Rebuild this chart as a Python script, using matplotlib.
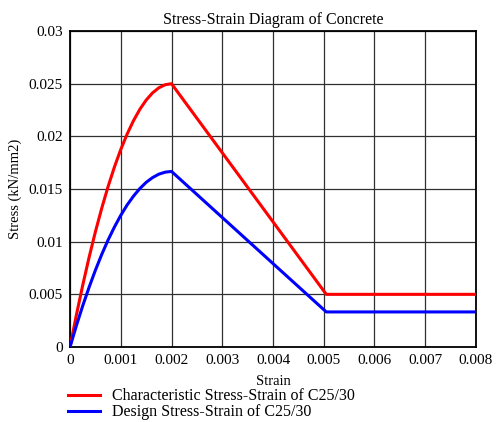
import matplotlib
matplotlib.use('Agg')
import matplotlib.pyplot as plt

plt.rcParams['font.family'] = ['Liberation Serif', 'DejaVu Serif']

# strain (-) and stress (kN/mm2)
strain = [0, 0.000125, 0.00025, 0.000375, 0.0005, 0.000625, 0.00075, 0.000875, 0.001,
          0.001125, 0.00125, 0.001375, 0.0015, 0.001625, 0.00175, 0.001875, 0.002,
          0.00505, 0.008]
stress_char = [0, 0.00303, 0.00586, 0.0085, 0.01094, 0.01318, 0.01523, 0.01709, 0.01875,
               0.02021, 0.02148, 0.02256, 0.02344, 0.02412, 0.02461, 0.0249, 0.025,
               0.005, 0.005]
stress_design = [0, 0.00202, 0.00391, 0.00566, 0.00729, 0.00879, 0.01016, 0.01139, 0.0125,
                 0.01348, 0.01432, 0.01504, 0.01563, 0.01608, 0.01641, 0.0166, 0.01667,
                 0.00333, 0.00333]

label_char = 'Characteristic Stress-Strain of C25/30'
label_design = 'Design Stress-Strain of C25/30'

x_ticks = [0, 0.001, 0.002, 0.003, 0.004, 0.005, 0.006, 0.007, 0.008]
x_labels = ['0', '0.001', '0.002', '0.003', '0.004', '0.005', '0.006', '0.007', '0.008']
y_ticks = [0, 0.005, 0.01, 0.015, 0.02, 0.025, 0.03]
y_labels = ['0', '0.005', '0.01', '0.015', '0.02', '0.025', '0.03']

fig = plt.figure(figsize=(4.98, 4.22), dpi=100)
ax = fig.add_axes([0.1406, 0.1777, 0.8152, 0.7488])

ax.plot(strain, stress_char, color='#ff0000', lw=2.2, label=label_char, zorder=3)
ax.plot(strain, stress_design, color='#0000ff', lw=2.2, label=label_design, zorder=3)

ax.set_xlim(0, 0.008)
ax.set_ylim(0, 0.03)
ax.set_xticks(x_ticks)
ax.set_xticklabels(x_labels)
ax.set_yticks(y_ticks)
ax.set_yticklabels(y_labels)
ax.tick_params(length=0, labelsize=11, pad=5)
ax.grid(True, color='#303030', lw=0.9)
for s in ax.spines.values():
    s.set_linewidth(1.3)

ax.set_title('Stress-Strain Diagram of Concrete', fontsize=11.5, pad=5)
ax.set_xlabel('Strain', fontsize=10.5, labelpad=6)
ax.set_ylabel('Stress (kN/mm2)', fontsize=10.5, labelpad=5)

fig.legend(loc='upper left', bbox_to_anchor=(0.136, 0.08), frameon=False,
           fontsize=11.5, handlelength=2.0, handletextpad=0.75, labelspacing=0.0,
           borderaxespad=0, borderpad=0)

fig.savefig('out.png', dpi=100)
